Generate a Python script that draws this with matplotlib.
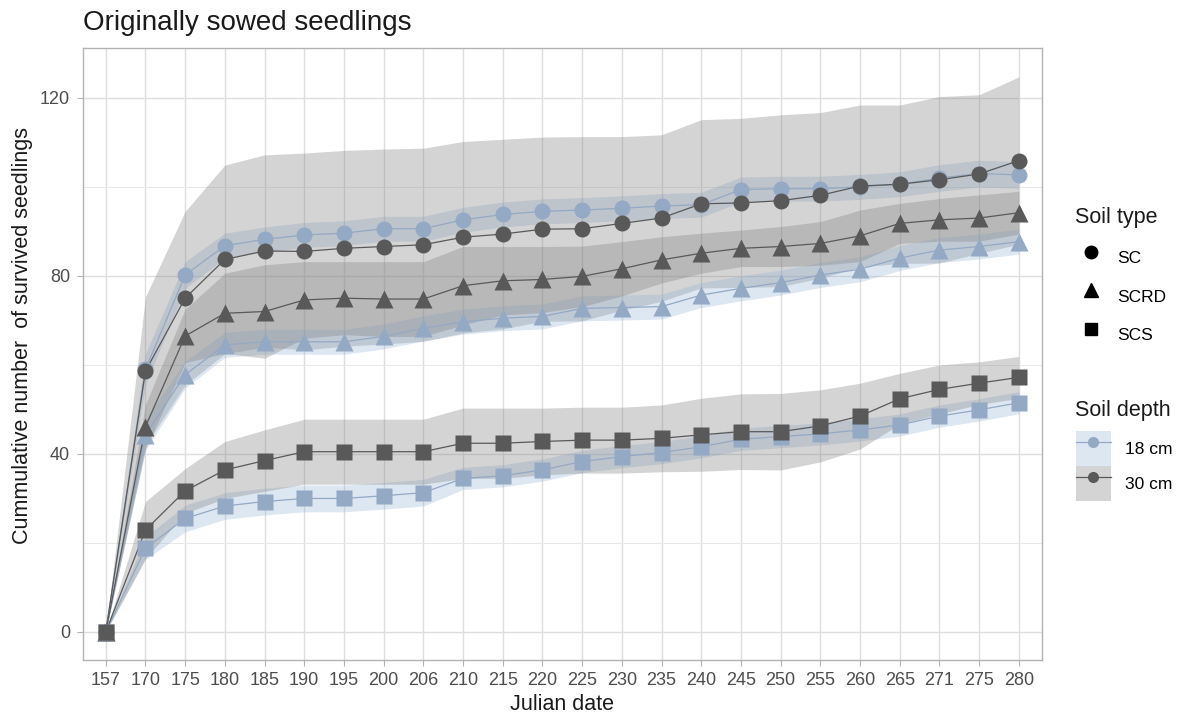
import matplotlib
matplotlib.use("Agg")
import matplotlib.pyplot as plt
import numpy as np
from matplotlib.lines import Line2D
from matplotlib.patches import Patch

plt.rcParams['font.family'] = ['Liberation Sans', 'DejaVu Sans']

# Julian dates (discrete x axis)
days = ['157', '170', '175', '180', '185', '190', '195', '200', '206', '210', '215', '220',
        '225', '230', '235', '240', '245', '250', '255', '260', '265', '271', '275', '280']

# mean cumulative survivors per soil type / depth
sc_18 = [0, 59.0, 80.2, 86.8, 88.2, 89.2, 89.6, 90.6, 90.6, 92.6, 93.8, 94.5,
         94.8, 95.2, 95.7, 96.0, 99.4, 99.6, 99.6, 100.0, 100.6, 102.0, 103.0, 102.7]
sc_30 = [0, 58.6, 75.0, 83.7, 85.6, 85.5, 86.2, 86.6, 87.0, 88.7, 89.4, 90.5,
         90.6, 91.8, 93.0, 96.2, 96.4, 96.9, 98.1, 100.2, 100.6, 101.6, 102.9, 105.9]
scrd_18 = [0, 44.3, 57.8, 64.5, 65.2, 65.2, 65.2, 66.4, 68.2, 69.7, 70.5, 70.9,
           72.7, 72.9, 73.1, 75.7, 77.2, 78.5, 80.2, 81.5, 84.0, 85.8, 86.6, 87.7]
scrd_30 = [0, 46.1, 66.5, 71.6, 72.0, 74.6, 75.0, 74.8, 74.8, 77.8, 78.9, 79.2,
           79.9, 81.6, 83.6, 85.1, 86.2, 86.6, 87.3, 89.0, 91.8, 92.6, 93.0, 94.2]
scs_18 = [0, 18.8, 25.5, 28.3, 29.3, 30.0, 30.0, 30.6, 31.3, 34.5, 35.1, 36.4,
          38.3, 39.4, 40.3, 41.6, 43.3, 43.9, 44.5, 45.4, 46.5, 48.5, 49.9, 51.5]
scs_30 = [0, 22.9, 31.7, 36.4, 38.5, 40.5, 40.5, 40.5, 40.5, 42.4, 42.4, 42.8,
          43.1, 43.1, 43.5, 44.3, 45.0, 45.0, 46.3, 48.5, 52.4, 54.5, 55.9, 57.2]

# confidence half-widths
sc_18_ci = [0, 3.5, 3.0, 2.8, 2.8, 2.8, 2.8, 2.8, 2.8, 2.8, 2.8, 2.8,
            2.8, 2.8, 2.8, 2.8, 2.8, 2.8, 2.8, 2.8, 2.8, 3.0, 3.0, 3.0]
sc_30_ci = [0, 16.7, 19.5, 21.2, 21.6, 22.1, 22.0, 21.9, 21.7, 21.5, 21.3, 20.7,
            20.7, 19.5, 18.7, 18.9, 19.0, 19.3, 18.6, 18.2, 17.8, 18.7, 17.8, 18.8]
scrd_18_ci = [0, 3.5, 3.0, 2.8, 2.8, 2.8, 2.8, 2.8, 2.8, 2.8, 2.8, 2.8,
              2.8, 2.8, 2.8, 2.8, 2.8, 2.8, 2.8, 2.8, 2.8, 2.8, 2.8, 2.8]
scrd_30_ci = [0, 5.0, 6.0, 9.0, 10.5, 8.6, 8.2, 8.4, 8.4, 8.8, 7.7, 7.4,
              6.8, 6.1, 5.2, 4.5, 4.1, 4.5, 4.9, 5.8, 4.5, 4.8, 5.2, 4.8]
scs_18_ci = [0, 2.5, 3.0, 3.0, 3.0, 3.0, 3.0, 3.0, 3.0, 2.5, 2.5, 2.5,
             2.5, 2.5, 2.5, 2.5, 2.5, 2.5, 2.5, 2.5, 2.5, 2.5, 2.5, 2.5]
scs_30_ci = [0, 6.4, 5.0, 6.4, 6.9, 7.3, 7.3, 7.3, 7.3, 7.9, 7.9, 7.5,
             7.4, 7.4, 7.5, 8.2, 8.5, 8.6, 8.1, 7.4, 5.7, 5.5, 4.8, 4.7]

soil_types = ['SC', 'SCRD', 'SCS']
depths = ['18 cm', '30 cm']
markers = {'SC': 'o', 'SCRD': '^', 'SCS': 's'}
line_col = {'18 cm': '#93a9c4', '30 cm': '#595959'}
fill_col = {'18 cm': '#8fb0d6', '30 cm': '#7f7f7f'}
fill_alpha = {'18 cm': 0.3, '30 cm': 0.33}

series = {
    ('SC', '18 cm'): (sc_18, sc_18_ci), ('SC', '30 cm'): (sc_30, sc_30_ci),
    ('SCRD', '18 cm'): (scrd_18, scrd_18_ci), ('SCRD', '30 cm'): (scrd_30, scrd_30_ci),
    ('SCS', '18 cm'): (scs_18, scs_18_ci), ('SCS', '30 cm'): (scs_30, scs_30_ci),
}

fig = plt.figure(figsize=(11.92, 7.17), dpi=100)
ax = fig.add_axes([0.0694, 0.0795, 0.8046, 0.8535])
x = np.arange(len(days))

# ribbons first
for (st, d), (m, ci) in series.items():
    m = np.array(m)
    ci = np.array(ci)
    ax.fill_between(x, m - ci, m + ci, color=fill_col[d], alpha=fill_alpha[d],
                    linewidth=0, zorder=2)

# lines and points
for st in soil_types:
    for d in depths:
        m, ci = series[(st, d)]
        ax.plot(x, m, color=line_col[d], lw=0.9, zorder=3)
        ax.plot(x, m, ls='none', marker=markers[st], ms=11.5 if st != 'SCRD' else 12.5,
                color=line_col[d], mec='none', zorder=4)

ax.set_xlim(-0.58, len(days) - 1 + 0.58)
ax.set_ylim(-6.3, 131.2)
ax.set_xticks(x)
ax.set_xticklabels(days)
ax.set_yticks([0, 40, 80, 120])
ax.set_yticks([20, 60, 100], minor=True)
ax.grid(which='major', color='#dedede', lw=1.0, zorder=0)
ax.grid(which='minor', axis='y', color='#e8e8e8', lw=0.7, zorder=0)
ax.set_axisbelow(True)
for sp in ax.spines.values():
    sp.set_color('#b3b3b3')
    sp.set_linewidth(1.0)
ax.tick_params(axis='both', which='major', length=4, color='#b3b3b3',
               labelsize=13, labelcolor='#4d4d4d', pad=5)
ax.tick_params(axis='y', which='minor', length=0)

ax.set_xlabel('Julian date', fontsize=15.5, color='#1a1a1a', labelpad=3)
ax.set_ylabel('Cummulative number  of survived seedlings', fontsize=15.5,
              color='#1a1a1a')
ax.yaxis.set_label_coords(-0.052, 0.531)
fig.text(0.0694, 0.968, 'Originally sowed seedlings', fontsize=20,
         color='#1a1a1a', ha='left', va='center')

# legend: soil type (shapes)
fig.text(0.9015, 0.696, 'Soil type', fontsize=15.5, color='#1a1a1a',
         ha='left', va='center')
type_handles = [Line2D([], [], ls='none', marker=markers[s], color='black',
                       ms=9 if s != 'SCRD' else 10) for s in soil_types]
fig.legend(type_handles, soil_types, loc='upper left',
           bbox_to_anchor=(0.901, 0.6646), frameon=False, fontsize=12.5,
           handlelength=2.0, handleheight=2.72, labelspacing=0.2,
           handletextpad=0.5, borderpad=0, borderaxespad=0)

# legend: soil depth (ribbon + line + point)
fig.text(0.9015, 0.428, 'Soil depth', fontsize=15.5, color='#1a1a1a',
         ha='left', va='center')
depth_handles = [(Patch(facecolor=fill_col[d], alpha=fill_alpha[d], edgecolor='none'),
                  Line2D([], [], color=line_col[d], lw=0.9, marker='o', ms=8,
                         mec='none')) for d in depths]
fig.legend(depth_handles, depths, loc='upper left',
           bbox_to_anchor=(0.9027, 0.3989), frameon=False, fontsize=12.5,
           handlelength=2.0, handleheight=2.72, labelspacing=0.0,
           handletextpad=0.8, borderpad=0, borderaxespad=0)

fig.savefig('out.png', dpi=100)
